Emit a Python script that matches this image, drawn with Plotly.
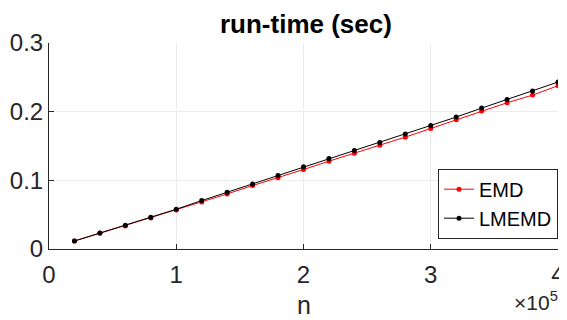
import plotly.graph_objects as go

n_values = [20000 * i for i in range(1, 21)]
emd_time = [0.0115, 0.0229, 0.0336, 0.0452, 0.0569, 0.0686, 0.0802, 0.0924, 0.1036, 0.1157,
            0.1279, 0.1395, 0.1512, 0.1629, 0.1755, 0.1882, 0.2008, 0.2130, 0.2241, 0.2378]
lmemd_time = [0.0117, 0.0233, 0.0345, 0.0462, 0.0579, 0.0705, 0.0827, 0.0948, 0.1070, 0.1196,
              0.1318, 0.1434, 0.1551, 0.1673, 0.1799, 0.1921, 0.2052, 0.2178, 0.2300, 0.2431]
x_tickvals = [0, 100000, 200000, 300000, 400000]
x_ticktext = ["0", "1", "2", "3", "4"]
y_tickvals = [0, 0.1, 0.2, 0.3]
y_ticktext = ["0", "0.1", "0.2", "0.3"]

FAM = "Liberation Sans, Arial, sans-serif"
fig = go.Figure()
fig.add_trace(go.Scatter(x=n_values, y=emd_time, mode="lines+markers", name="EMD",
                         line=dict(color="#ff0000", width=1), marker=dict(color="#ff0000", size=5)))
fig.add_trace(go.Scatter(x=n_values, y=lmemd_time, mode="lines+markers", name="LMEMD",
                         line=dict(color="#000000", width=1), marker=dict(color="#000000", size=5)))

tick_font = dict(family=FAM, size=24, color="#262626")
# page body has an 8px margin, so the figure is 559x312 and offset by (8, 8)
fig.update_layout(
    width=559, height=312,
    margin=dict(l=41, r=9, t=35, b=71),
    paper_bgcolor="white", plot_bgcolor="white",
    title=dict(text="<b>run-time (sec)</b>", x=0.533, xanchor="center", xref="container",
               y=0.949, yanchor="middle", yref="container",
               font=dict(family=FAM, size=26, color="#000000")),
    font=tick_font,
    showlegend=True,
    legend=dict(x=1.0, y=0.05, xanchor="right", yanchor="bottom",
                bgcolor="white", bordercolor="#262626", borderwidth=1,
                font=dict(family=FAM, size=20, color="#000000"),
                itemwidth=30, tracegroupgap=0),
    xaxis=dict(range=[0, 400000], tickvals=x_tickvals, ticktext=x_ticktext,
               showgrid=True, gridcolor="#ececec", gridwidth=1,
               showline=True, linecolor="#262626", linewidth=1, mirror=False,
               ticks="inside", ticklen=5, tickcolor="#262626", zeroline=False,
               tickfont=tick_font, automargin=False, ticklabelstandoff=4),
    yaxis=dict(range=[0, 0.3], tickvals=y_tickvals, ticktext=y_ticktext,
               showgrid=True, gridcolor="#ececec", gridwidth=1,
               showline=True, linecolor="#262626", linewidth=1, mirror=False,
               ticks="inside", ticklen=5, tickcolor="#262626", zeroline=False,
               tickfont=tick_font, automargin=False),
)
fig.add_annotation(text="n", xref="paper", yref="paper", x=0.5, y=-0.27,
                   xanchor="center", yanchor="middle", showarrow=False,
                   font=dict(family=FAM, size=25, color="#262626"))
fig.add_annotation(text="×10<sup>5</sup>", xref="paper", yref="paper", x=1.004, y=-0.25,
                   xanchor="right", yanchor="middle", showarrow=False,
                   font=dict(family=FAM, size=21, color="#262626"))
fig.write_html("out.html")
